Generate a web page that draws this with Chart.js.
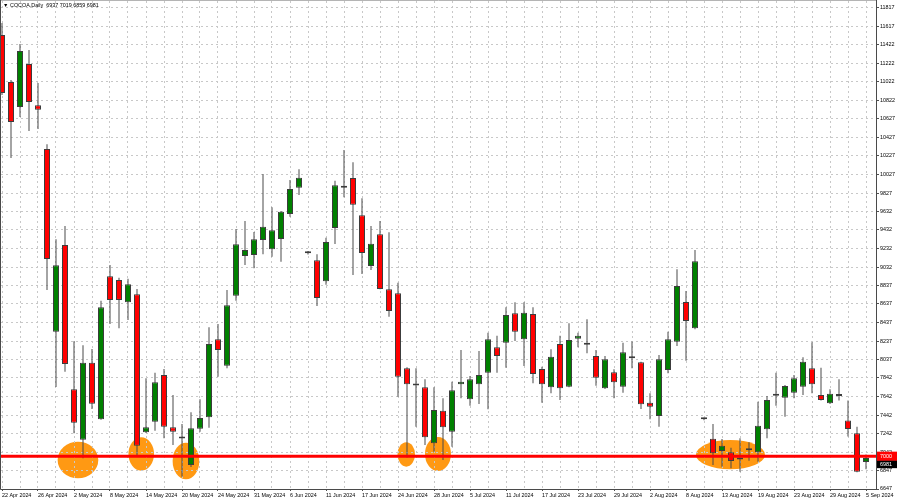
<!DOCTYPE html>
<html><head><meta charset="utf-8">
<script src="https://cdn.jsdelivr.net/npm/chart.js@4.4.1/dist/chart.umd.min.js"></script>
<style>html,body{margin:0;padding:0;background:#fff;}#wrap{width:900px;height:502px;}canvas{display:block;}</style>
</head><body><div id="wrap"><canvas id="c" width="900" height="502"></canvas></div>
<script>
const symbolTitle = 'COCOA,Daily  6937 7019 6859 6981';
const xTickLabels = ['22 Apr 2024','26 Apr 2024','2 May 2024','8 May 2024','14 May 2024','20 May 2024','24 May 2024','31 May 2024','6 Jun 2024','11 Jun 2024','17 Jun 2024','24 Jun 2024','28 Jun 2024','5 Jul 2024','11 Jul 2024','17 Jul 2024','23 Jul 2024','29 Jul 2024','2 Aug 2024','8 Aug 2024','13 Aug 2024','19 Aug 2024','23 Aug 2024','29 Aug 2024','5 Sep 2024'];
const yTickValues = [11817,11617,11422,11222,11022,10822,10627,10427,10227,10027,9827,9632,9432,9232,9032,8837,8637,8437,8237,8037,7842,7642,7442,7242,7042,6847,6647];
const openPrices = [11527,11022,10753,11215,10771,10302,8338,9270,7719,7177,8005,7396,8933,8894,8654,8740,7257,7371,7873,7310,7195,6905,7295,7418,8256,7972,8725,9151,9162,9323,9224,9334,9603,9886,9181,9105,8879,9452,9890,9990,9589,9044,9385,8793,8751,7944,7765,7740,7138,7489,7263,7773,7611,7773,7897,8170,8220,8535,8256,8528,7937,7740,8206,7747,8263,8220,8077,7729,7901,7747,8052,8009,7575,7432,7926,8230,8657,8374,7398,7188,7056,7042,6970,7064,7042,7289,7650,7628,7682,7747,7944,7658,7568,7647,7382,7245,6937];
const highPrices = [11656,11043,11430,11366,11011,10352,9332,9474,8235,8192,8152,8671,9055,8918,8908,8797,7837,7897,7937,7658,7346,7472,7611,8385,8421,8786,9442,9528,9409,10033,9675,9635,9968,10083,9205,9170,9348,9961,10291,10159,9772,9474,9528,9406,8865,7955,7944,7826,7740,7622,7799,8141,7862,8131,8327,8295,8600,8654,8654,8600,7962,8149,8295,8428,8327,8471,8141,8077,7933,8220,8231,8016,7676,8087,8338,9009,8776,9216,7414,7346,7185,7091,7192,7149,7586,7647,7897,7765,7873,8063,8224,7951,7719,7826,7597,7317,7019];
const lowPrices = [10882,10205,10645,10495,10517,8786,7744,7908,7246,6977,7507,7390,8421,8374,8464,7013,7250,7274,7192,7120,6780,6884,7263,7306,7854,7944,8671,9055,9019,9170,9144,9090,9574,9807,9167,8614,8843,9280,9782,8947,8958,9001,8793,8499,7639,6985,7317,7120,7048,6959,7102,7622,7543,7561,7504,7897,7951,8238,7969,7783,7575,7676,7604,7740,8170,8106,7758,7722,7622,7682,7944,7507,7396,7317,7890,8184,8026,8364,7385,6905,6887,6869,6833,6951,6941,7192,7543,7424,7622,7658,7676,7597,7561,7597,7210,6828,6859];
const closePrices = [10903,10592,11355,10807,10724,9119,9052,7991,7360,8005,7564,8600,8679,8679,8847,7113,7310,7794,7317,7263,7190,7300,7410,8206,8141,8622,9277,9216,9331,9466,9428,9628,9872,9993,9183,8700,9302,9911,9886,9703,9184,9284,8797,8560,7854,7773,7760,7203,7496,7310,7709,7801,7826,7873,8256,8077,8517,8338,8542,7883,7773,8069,7729,8249,8295,8198,7844,8041,7794,8116,8066,7557,7532,8041,8256,8829,8453,9094,7396,7031,7113,6948,6963,7074,7328,7604,7658,7754,7837,8016,7773,7604,7672,7658,7292,6833,6981];
const levelPrice = 7000;
const lastPrice = 6981;
const highlightZones = [
  {bar: 8.44, price: 6959, barRadius: 2.26, priceRadius: 197},
  {bar: 15.47, price: 7023, barRadius: 1.42, priceRadius: 179},
  {bar: 20.44, price: 6948, barRadius: 1.48, priceRadius: 197},
  {bar: 44.92, price: 7018, barRadius: 0.97, priceRadius: 131},
  {bar: 48.44, price: 7023, barRadius: 1.44, priceRadius: 183},
  {bar: 80.94, price: 7016, barRadius: 3.83, priceRadius: 158}
];

const FONT = '"Liberation Sans", Arial, sans-serif';
const FS = 5.4;
const idx = openPrices.map((_, i) => i);
const bodyData = idx.map(i => ({x: i, y: [openPrices[i], closePrices[i]]}));
const wickData = idx.map(i => ({x: i, y: [lowPrices[i], highPrices[i]]}));
const bodyColors = idx.map(i => closePrices[i] >= openPrices[i] ? '#008000' : '#ff0000');

const fixPad = s => { s.paddingTop = 0; s.paddingBottom = 0; s.paddingLeft = 0; s.paddingRight = 0; };

const overlay = {
  id: 'overlay',
  beforeDraw(chart) {
    const {ctx, scales: {x, y}} = chart;
    ctx.save();
    ctx.fillStyle = '#ffffff';
    ctx.fillRect(0, 0, chart.width, chart.height);
    ctx.fillStyle = '#ff9913';
    highlightZones.forEach(z => {
      const cx = x.getPixelForValue(z.bar), cy = y.getPixelForValue(z.price);
      const rx = Math.abs(x.getPixelForValue(z.bar + z.barRadius) - cx);
      const ry = Math.abs(y.getPixelForValue(z.price + z.priceRadius) - cy);
      ctx.beginPath();
      ctx.ellipse(cx, cy, rx, ry, 0, 0, Math.PI * 2);
      ctx.fill();
    });
    ctx.restore();
  },
  afterDatasetsDraw(chart) {
    const {ctx, chartArea: a, scales: {y}} = chart;
    const ly = y.getPixelForValue(levelPrice);
    ctx.save();
    ctx.strokeStyle = '#ff0000';
    ctx.lineWidth = 3;
    ctx.beginPath();
    ctx.moveTo(a.left, ly);
    ctx.lineTo(a.right, ly);
    ctx.stroke();
    ctx.restore();
  },
  afterDraw(chart) {
    const {ctx, chartArea: a, scales: {y}} = chart;
    ctx.save();
    // frame
    ctx.lineWidth = 1;
    ctx.strokeStyle = '#b4b4b4';
    ctx.beginPath(); ctx.moveTo(0, 0.5); ctx.lineTo(a.right + 1, 0.5); ctx.stroke();
    ctx.strokeStyle = '#4a4a4a';
    ctx.beginPath();
    ctx.moveTo(0.5, 0); ctx.lineTo(0.5, a.bottom + 0.5);
    ctx.lineTo(a.right + 0.5, a.bottom + 0.5);
    ctx.lineTo(a.right + 0.5, 0);
    ctx.stroke();
    // title
    ctx.fillStyle = '#000';
    ctx.textBaseline = 'middle';
    ctx.font = FS + 'px ' + FONT;
    ctx.fillText('\u25BC', 3, 6);
    ctx.fillText(symbolTitle, 10, 6);
    // price labels
    const ly = y.getPixelForValue(levelPrice);
    ctx.fillStyle = '#000';
    ctx.fillRect(a.right + 1, ly + 4, 20, 8);
    ctx.fillStyle = '#ff0000';
    ctx.fillRect(a.right + 1, ly - 4.5, 20, 9);
    ctx.fillStyle = '#fff';
    ctx.fillText(String(levelPrice), a.right + 4, ly);
    ctx.fillText(String(lastPrice), a.right + 4, ly + 8);
    ctx.restore();
  }
};

new Chart(document.getElementById('c'), {
  type: 'bar',
  data: {
    datasets: [
      {label: 'body', data: bodyData, backgroundColor: bodyColors, borderColor: '#3c3c3c', borderWidth: 1,
       borderSkipped: false, maxBarThickness: 6, grouped: false, minBarLength: 2, order: 1, clip: 0},
      {label: 'wick', data: wickData, backgroundColor: '#4a4a4a', borderWidth: 0,
       maxBarThickness: 1, grouped: false, order: 2, clip: 0}
    ]
  },
  options: {
    responsive: false, animation: false, devicePixelRatio: 1,
    layout: {padding: {top: 1, left: 1, right: 0, bottom: 0}},
    plugins: {legend: {display: false}, tooltip: {enabled: false}, title: {display: false}},
    scales: {
      x: {
        type: 'linear', min: -1 / 9, max: 874 / 9, offset: false, bounds: 'data',
        grid: {offset: false, color: '#c8c8c8', lineWidth: 1, drawTicks: true, tickLength: 2,
               tickColor: c => (c.index % 2 === 0 ? '#505050' : 'rgba(0,0,0,0)')},
        border: {display: false, dash: [2, 3]},
        ticks: {autoSkip: false, maxRotation: 0, minRotation: 0, align: 'start', padding: 1, color: '#000',
                font: {family: FONT, size: FS},
                callback: v => (v % 4 === 0 ? xTickLabels[v / 4] : '')},
        afterBuildTicks: s => { const t = []; for (let i = 0; i < openPrices.length; i += 2) t.push({value: i}); s.ticks = t; },
        afterFit: s => { s.height = 13; fixPad(s); }
      },
      y: {
        type: 'linear', position: 'right', min: 6647, max: 11892, beginAtZero: false, bounds: 'data',
        grid: {color: '#c8c8c8', lineWidth: 1, drawTicks: true, tickLength: 3, tickColor: '#505050'},
        border: {display: false, dash: [2, 3]},
        ticks: {color: '#000', padding: 1, crossAlign: 'near', font: {family: FONT, size: FS},
                callback: v => String(v)},
        afterBuildTicks: s => { s.ticks = yTickValues.map(v => ({value: v})); },
        afterFit: s => { s.width = 24; fixPad(s); }
      }
    }
  },
  plugins: [overlay]
});
</script></body></html>
